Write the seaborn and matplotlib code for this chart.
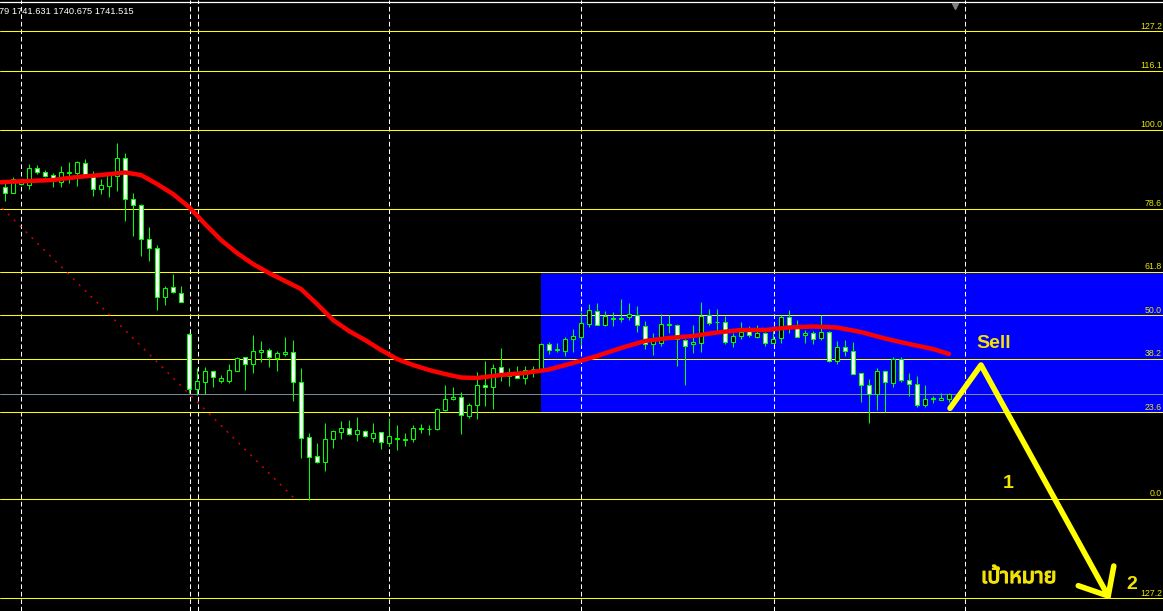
import numpy as np
import pandas as pd
import seaborn as sns
import matplotlib.pyplot as plt
import matplotlib.patheffects as pe
from matplotlib import font_manager
from matplotlib.ft2font import FT2Font

# bars, oldest first
opens = [
    1762.17, 1761.57, 1762.50, 1762.40, 1764.07, 1763.67, 1763.37, 1762.67, 1763.60, 1763.63,
    1764.57, 1763.30, 1761.97, 1762.33, 1763.30, 1765.07, 1760.97, 1760.40, 1756.97, 1756.07,
    1751.17, 1752.17, 1751.57, 1747.50, 1742.03, 1742.73, 1743.80, 1742.83, 1742.83, 1743.83,
    1745.20, 1744.47, 1745.75, 1745.87, 1745.13, 1745.50, 1745.67, 1742.67, 1737.17, 1735.27,
    1734.73, 1736.97, 1737.75, 1738.07, 1737.47, 1737.80, 1737.13, 1737.67, 1736.63, 1737.03,
    1736.95, 1736.97, 1738.05, 1737.97, 1738.00, 1739.93, 1740.97, 1741.23, 1739.33, 1740.37,
    1742.37, 1742.17, 1744.17, 1743.33, 1743.73, 1743.10, 1743.98, 1744.03, 1746.50, 1745.92,
    1745.83, 1746.97, 1747.23, 1748.47, 1749.77, 1748.37, 1749.05, 1749.05, 1749.17, 1749.40,
    1748.30, 1746.50, 1746.57, 1748.45, 1748.40, 1746.90, 1746.47, 1746.57, 1749.40, 1748.68,
    1748.73, 1746.73, 1747.30, 1747.97, 1747.23, 1747.57, 1746.63, 1747.07, 1749.17, 1748.13,
    1747.37, 1747.57, 1747.07, 1747.73, 1744.83, 1746.17, 1745.83, 1743.57, 1742.37, 1741.47,
    1743.77, 1742.57, 1744.97, 1742.90, 1742.47, 1740.37, 1741.05, 1740.93, 1740.98,
]
highs = [
    1762.90, 1763.17, 1763.00, 1764.50, 1764.40, 1763.90, 1763.57, 1764.30, 1764.70, 1764.83,
    1765.00, 1763.80, 1763.00, 1763.57, 1766.57, 1765.57, 1761.57, 1760.50, 1758.17, 1756.37,
    1752.33, 1753.50, 1752.30, 1747.60, 1744.07, 1744.20, 1743.80, 1743.40, 1744.50, 1745.23,
    1745.20, 1747.40, 1746.80, 1746.10, 1745.80, 1747.20, 1746.90, 1744.07, 1737.57, 1736.57,
    1738.57, 1737.90, 1738.80, 1738.90, 1739.17, 1737.90, 1738.60, 1737.67, 1739.07, 1738.40,
    1737.60, 1738.40, 1738.47, 1738.40, 1740.07, 1742.40, 1742.20, 1741.67, 1740.57, 1743.67,
    1744.80, 1744.50, 1746.13, 1744.13, 1744.30, 1744.30, 1744.30, 1746.63, 1746.67, 1746.63,
    1747.23, 1748.00, 1749.73, 1750.50, 1750.57, 1749.80, 1749.67, 1751.00, 1750.60, 1750.30,
    1748.80, 1747.63, 1749.50, 1749.40, 1748.47, 1746.97, 1748.40, 1750.70, 1750.00, 1750.00,
    1749.33, 1747.57, 1748.70, 1748.30, 1748.40, 1747.70, 1747.90, 1749.40, 1749.90, 1748.90,
    1747.90, 1747.80, 1749.37, 1747.80, 1746.80, 1746.90, 1746.67, 1743.57, 1743.00, 1744.10,
    1743.77, 1745.17, 1745.23, 1743.57, 1743.30, 1742.37, 1741.30, 1741.57, 1741.63,
]
lows = [
    1760.83, 1761.57, 1762.40, 1762.00, 1763.50, 1763.17, 1762.23, 1762.20, 1762.63, 1762.33,
    1763.23, 1761.33, 1761.50, 1761.17, 1761.83, 1758.83, 1757.30, 1755.30, 1754.83, 1749.90,
    1750.40, 1751.57, 1750.73, 1741.60, 1741.40, 1741.50, 1742.23, 1742.57, 1742.63, 1743.83,
    1741.90, 1743.63, 1744.73, 1744.23, 1743.80, 1745.33, 1740.83, 1735.13, 1730.90, 1734.63,
    1733.80, 1736.13, 1737.00, 1737.40, 1736.83, 1737.23, 1736.70, 1736.03, 1736.30, 1735.90,
    1736.30, 1736.70, 1737.63, 1737.40, 1737.90, 1739.83, 1740.90, 1737.50, 1739.10, 1739.00,
    1740.33, 1740.00, 1742.80, 1742.30, 1743.07, 1742.53, 1743.17, 1743.97, 1745.50, 1745.67,
    1745.33, 1745.73, 1746.40, 1748.17, 1748.37, 1748.30, 1748.33, 1748.67, 1748.90, 1747.67,
    1746.00, 1745.40, 1746.30, 1747.57, 1744.33, 1742.43, 1745.63, 1745.73, 1748.40, 1747.73,
    1746.47, 1746.23, 1746.97, 1747.23, 1747.07, 1746.33, 1746.57, 1746.63, 1747.57, 1747.17,
    1746.63, 1746.47, 1746.90, 1744.67, 1744.50, 1745.33, 1743.50, 1740.73, 1738.63, 1739.90,
    1739.73, 1742.23, 1742.73, 1741.30, 1740.17, 1740.17, 1740.63, 1740.90, 1740.68,
]
closes = [
    1761.57, 1762.97, 1762.90, 1764.07, 1763.67, 1763.33, 1762.90, 1763.67, 1763.67, 1764.67,
    1763.37, 1761.97, 1762.37, 1763.40, 1765.07, 1760.97, 1760.37, 1756.97, 1756.07, 1751.17,
    1752.10, 1751.67, 1750.73, 1741.97, 1742.80, 1743.80, 1743.17, 1743.07, 1743.90, 1745.13,
    1744.47, 1745.80, 1745.90, 1745.23, 1745.60, 1745.70, 1742.67, 1737.07, 1735.23, 1734.73,
    1736.97, 1737.80, 1738.07, 1737.47, 1737.87, 1737.33, 1737.57, 1736.67, 1737.27, 1737.10,
    1737.00, 1738.07, 1738.10, 1738.05, 1739.97, 1740.97, 1741.23, 1739.37, 1740.37, 1742.37,
    1742.17, 1744.07, 1743.50, 1743.73, 1743.10, 1743.93, 1744.03, 1746.47, 1745.90, 1745.97,
    1747.00, 1747.30, 1748.57, 1749.87, 1748.37, 1749.30, 1749.10, 1749.10, 1749.50, 1748.37,
    1746.50, 1746.83, 1748.50, 1748.50, 1746.97, 1746.33, 1746.73, 1749.30, 1748.63, 1748.73,
    1746.73, 1747.30, 1747.70, 1747.40, 1747.57, 1746.63, 1746.97, 1749.17, 1748.23, 1747.23,
    1747.57, 1746.97, 1747.67, 1744.77, 1746.17, 1745.83, 1743.50, 1742.37, 1741.50, 1743.77,
    1742.67, 1744.97, 1742.90, 1742.47, 1740.37, 1740.97, 1741.10, 1741.10, 1741.52,
]

# red moving average, read at a subset of bars
ma_bar = [-1, 0, 3, 6, 9, 12, 15, 17, 19, 21, 23, 25, 27, 29, 31, 33, 35, 37, 39, 41, 43, 45,
          47, 49, 51, 53, 55, 57, 59, 62, 65, 68, 71, 74, 77, 80, 83, 86, 89, 92, 95, 98,
          101, 104, 107, 110, 113, 116, 118]
ma_price = [1762.65, 1762.70, 1762.80, 1762.90, 1763.20, 1763.40, 1763.65, 1763.40, 1762.50,
            1761.50, 1760.20, 1758.50, 1756.90, 1755.60, 1754.50, 1753.60, 1752.80, 1752.00,
            1750.50, 1748.90, 1747.80, 1746.90, 1745.90, 1745.00, 1744.40, 1743.90, 1743.50,
            1743.15, 1743.10, 1743.40, 1743.60, 1743.95, 1744.60, 1745.30, 1746.10, 1746.80,
            1747.10, 1747.30, 1747.65, 1747.90, 1747.90, 1748.15, 1748.25, 1748.15, 1747.70,
            1747.05, 1746.50, 1746.00, 1745.50]

fib_prices = [1777.77, 1773.80, 1767.90, 1760.00, 1753.73, 1749.37, 1744.97, 1739.67, 1730.97, 1721.07]
fib_labels = ["127.2", "116.1", "100.0", "78.6", "61.8", "50.0", "38.2", "23.6", "0.0", "127.2"]

bid = 1741.515
quote = "79 1741.631 1740.675 1741.515"
separators = [2, 23.1, 24.1, 48, 72, 96.1, 120]
zone_left, zone_top, zone_bottom = 67, 1753.73, 1739.67
trend_x, trend_y = [-0.375, 36.125], [1760.1, 1731.1]
arrow_x, arrow_y = [118.125, 122.0, 137.9], [1740.07, 1744.4, 1721.3]
head_x, head_y = [134.16, 137.9, 138.6], [1722.33, 1721.3, 1724.3]


def thai_family():
    names = []
    for entry in font_manager.fontManager.ttflist:
        try:
            if 0x0E1B in FT2Font(entry.fname).get_charmap():
                names.append(entry.name)
        except Exception:
            continue
    for pref in ("Noto Sans Thai", "Noto Sans Thai Looped", "Loma", "Garuda", "Tlwg Typo"):
        if pref in names:
            return pref
    return names[0] if names else "DejaVu Sans"


sns.set_style("dark", {"axes.facecolor": "black", "figure.facecolor": "black"})
plt.rcParams["font.family"] = ["Liberation Sans", "DejaVu Sans"]

df = pd.DataFrame({"open": opens, "high": highs, "low": lows, "close": closes})
df["bar"] = np.arange(len(df))
df["up"] = df["close"] >= df["open"]

fig = plt.figure(figsize=(11.63, 6.11), dpi=100)
ax = fig.add_axes([0, 0, 1, 1])
ax.set_xlim(-0.625, 144.75)
ax.set_ylim(1719.8, 1780.9)
ax.set_axis_off()

ax.axhspan(zone_bottom, zone_top, xmin=(zone_left + 0.625) / 145.375, xmax=1,
           color="#0000FF", lw=0, zorder=1)
for x in separators:
    ax.axvline(x, color="white", lw=0.75, linestyle=(0, (4.5, 2.7)), zorder=2)
for p, lab in zip(fib_prices, fib_labels):
    ax.axhline(p, color="#FFFF00", lw=0.75, zorder=2)
    ax.text(144.6, p + 0.08, lab, ha="right", va="bottom", fontsize=6.3, color="#E8E800")
ax.axhline(bid, color="#778899", lw=0.75, zorder=2)
ax.axhline(1780.7, color="white", lw=0.9, zorder=2)
ax.plot(118.75, 1780.35, marker="v", color="#808080", markersize=5, clip_on=False)

ax.plot(trend_x, trend_y, color="#E00000", lw=1.0, linestyle=(0, (1.5, 4.5)), zorder=3)

ax.vlines(df["bar"], df["low"], df["high"], color="#00FF00", lw=0.75, zorder=4)
body = (df["close"] - df["open"]).abs().clip(lower=0.04)
ax.bar(df["bar"], body, bottom=df[["open", "close"]].min(axis=1), width=0.5,
       color=np.where(df["up"], "black", "white"), edgecolor="#00FF00", linewidth=0.75, zorder=5)

sns.lineplot(x=ma_bar, y=ma_price, color="#FF0000", linewidth=3.2, ax=ax, zorder=6)

yellow = "#FFFF00"
ax.plot(arrow_x, arrow_y, color=yellow, lw=4, solid_capstyle="round", solid_joinstyle="round", zorder=7)
ax.plot(head_x, head_y, color=yellow, lw=4, solid_capstyle="round", solid_joinstyle="round", zorder=7)
txt = dict(color="#F2E205", fontsize=14, fontweight="bold", va="baseline", ha="left", zorder=8)
ax.text(121.375, 1746.1, "Sell", **txt)
ax.text(124.75, 1732.1, "1", **txt)
ax.text(140.125, 1722.0, "2", **txt)
thai = ax.text(122.0, 1722.6, "เป้าหมาย", family=[thai_family(), "DejaVu Sans"],
               **{**txt, "fontsize": 15.5})
thai.set_path_effects([pe.withStroke(linewidth=0.9, foreground="#F2E205")])

fig.text(-0.0005, 1 - 14 / 611, quote, color="white", fontsize=6.7, va="baseline", ha="left")

fig.savefig("out.png", dpi=100, facecolor="black")
